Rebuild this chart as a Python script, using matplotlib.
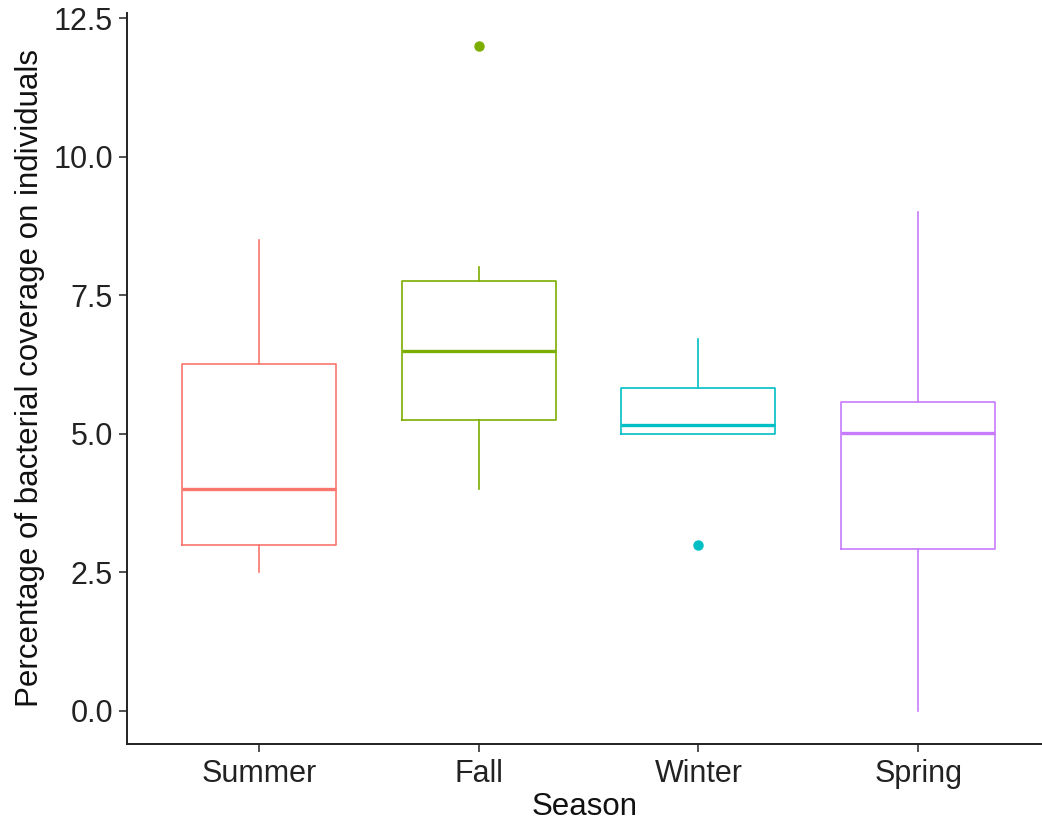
import matplotlib
matplotlib.use("Agg")
import matplotlib.pyplot as plt

plt.rcParams['font.family'] = ['Liberation Sans', 'DejaVu Sans']

seasons = ["Summer", "Fall", "Winter", "Spring"]
whisker_low = [2.5, 4.0, 5.0, 0.0]
q1 = [3.0, 5.25, 5.0, 2.92]
median = [4.0, 6.5, 5.15, 5.02]
q3 = [6.25, 7.75, 5.83, 5.58]
whisker_high = [8.5, 8.0, 6.7, 9.0]
outliers = [[], [12.0], [3.0], []]
colors = ["#F8766D", "#7CAE00", "#00BFC4", "#C77CFF"]
yticks = [0.0, 2.5, 5.0, 7.5, 10.0, 12.5]

W, H = 1042, 836
fig = plt.figure(figsize=(W / 100, H / 100), dpi=100)
ax = fig.add_axes([127 / W, (H - 744) / H, (W - 127) / W, (744 - 12.5) / H])

for i, s in enumerate(seasons):
    stats = [dict(whislo=whisker_low[i], q1=q1[i], med=median[i], q3=q3[i],
                  whishi=whisker_high[i], fliers=outliers[i], label=s)]
    c = colors[i]
    ax.bxp(stats, positions=[i + 1], widths=0.7, showcaps=False,
           boxprops=dict(color=c, linewidth=1.2),
           whiskerprops=dict(color=c, linewidth=1.2),
           medianprops=dict(color=c, linewidth=2.4),
           flierprops=dict(marker='o', markerfacecolor=c, markeredgecolor=c,
                           markersize=6.5, linestyle='none'))

ax.set_xlim(0.4, 1 + (W - 258) / 220)
ax.set_ylim(-0.6, 12.6)
ax.set_xticks(range(1, len(seasons) + 1))
ax.set_xticklabels(seasons)
ax.set_yticks(yticks)
ax.set_yticklabels([f"{v:.1f}" for v in yticks])

for side in ['top', 'right']:
    ax.spines[side].set_visible(False)
for side in ['left', 'bottom']:
    ax.spines[side].set_linewidth(1.4)
    ax.spines[side].set_color('#222222')

ax.tick_params(axis='both', labelsize=22, colors='#333333', length=6, width=1.2,
               labelcolor='#222222')
ax.tick_params(axis='x', pad=5)
ax.tick_params(axis='y', pad=4)
ax.set_xlabel("Season", fontsize=22.5, color='#111111', labelpad=2)
ax.set_ylabel("Percentage of bacterial coverage on individuals", fontsize=22.5,
              color='#111111', labelpad=6)

fig.savefig("out.png", dpi=100)
